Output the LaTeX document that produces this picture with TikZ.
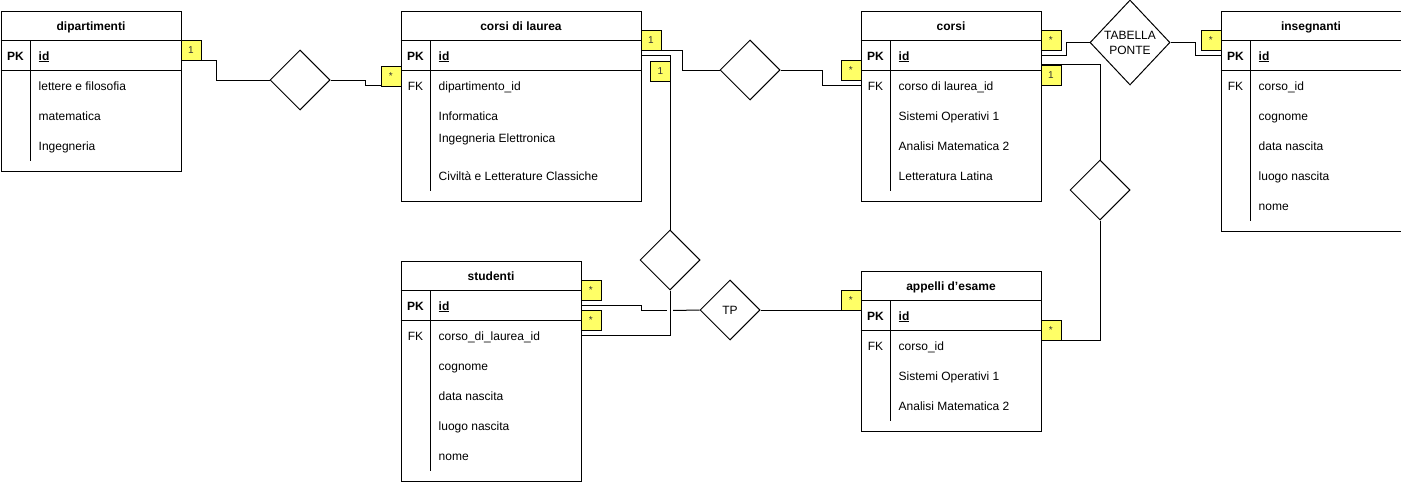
\documentclass[tikz,border=0pt]{standalone}
\usepackage{fontspec}
\setmainfont{Liberation Sans}
\usetikzlibrary{shapes.geometric}
\definecolor{badgeyellow}{HTML}{FFFF66}
\definecolor{badgetext}{HTML}{333333}
\newcommand{\ertab}[7]{%
  \node[tbl, minimum width=#4pt, minimum height=#5pt] (#1) at (#2,#3) {};
  \draw[tblline] ([yshift=-30pt]#1.north west) -- ([yshift=-30pt]#1.north east);
  \draw[tblline] ([yshift=-60pt]#1.north west) -- ([yshift=-60pt]#1.north east);
  \draw[tblline] ([xshift=30pt,yshift=-30pt]#1.north west) -- ++(0,#7);
  \node[titletxt] (#1-t) at ([yshift=-15pt]#1.north) {\textbf{#6}};
  \node[keytxt] (#1-pk) at ([xshift=15pt,yshift=-45pt]#1.north west) {\textbf{PK}};
  \node[rowtxt] (#1-id) at ([xshift=38pt,yshift=-45pt]#1.north west) {\textbf{\underline{id}}};
}
\newcommand{\errow}[4]{\node[rowtxt] (#1) at ([xshift=38pt,yshift=-#3pt]#2.north west) {#4};}
\newcommand{\erfk}[2]{\node[keytxt] (#1) at ([xshift=15pt,yshift=-75pt]#2.north west) {FK};}
\begin{document}
\begin{tikzpicture}[x=1pt,y=-1pt,
  font=\fontsize{12pt}{14pt}\selectfont,
  tbl/.style={draw, line width=1pt, inner sep=0pt, anchor=north west, fill=white},
  tblline/.style={line width=1pt},
  titletxt/.style={inner sep=0pt, text height=9pt, text depth=0pt},
  keytxt/.style={inner sep=0pt, text height=9pt, text depth=0pt},
  rowtxt/.style={inner sep=0pt, anchor=west, text height=9pt, text depth=0pt},
  rel/.style={draw, diamond, inner sep=0pt, minimum width=60pt, minimum height=60pt, line width=1pt},
  conn/.style={line width=1pt},
  badge/.style={draw, line width=0.7pt, fill=badgeyellow, anchor=north west, minimum width=20pt, minimum height=20pt, inner sep=0pt, text=badgetext, font=\fontsize{10pt}{12pt}\selectfont, text height=7pt, text depth=0pt}
]
\useasboundingbox (0,0) rectangle (1401,482);

% tables
\ertab{dip}{0.5}{10.5}{180}{160}{dipartimenti}{120}
\errow{dip-r1}{dip}{75}{lettere e filosofia}
\errow{dip-r2}{dip}{105}{matematica}
\errow{dip-r3}{dip}{135}{Ingegneria}

\ertab{cdl}{400.5}{10.5}{240}{190}{corsi di laurea}{150}
\erfk{cdl-fk}{cdl}
\errow{cdl-r1}{cdl}{75}{dipartimento\_id}
\errow{cdl-r2}{cdl}{105.5}{Informatica}
\errow{cdl-r3}{cdl}{127}{Ingegneria Elettronica}
\errow{cdl-r4}{cdl}{165}{Civiltà e Letterature Classiche}

\ertab{corsi}{860.5}{10.5}{180}{190}{corsi}{150}
\erfk{corsi-fk}{corsi}
\errow{corsi-r1}{corsi}{75}{corso di laurea\_id}
\errow{corsi-r2}{corsi}{105}{Sistemi Operativi 1}
\errow{corsi-r3}{corsi}{135}{Analisi Matematica 2}
\errow{corsi-r4}{corsi}{165}{Letteratura Latina}

\ertab{ins}{1220.5}{10.5}{180}{220}{insegnanti}{180}
\erfk{ins-fk}{ins}
\errow{ins-r1}{ins}{75}{corso\_id}
\errow{ins-r2}{ins}{105}{cognome}
\errow{ins-r3}{ins}{135}{data nascita}
\errow{ins-r4}{ins}{165}{luogo nascita}
\errow{ins-r5}{ins}{195}{nome}

\ertab{stu}{400.5}{260.5}{180}{220}{studenti}{180}
\erfk{stu-fk}{stu}
\errow{stu-r1}{stu}{75}{corso\_di\_laurea\_id}
\errow{stu-r2}{stu}{105}{cognome}
\errow{stu-r3}{stu}{135}{data nascita}
\errow{stu-r4}{stu}{165}{luogo nascita}
\errow{stu-r5}{stu}{195}{nome}

\ertab{app}{860.5}{270.5}{180}{160}{appelli d'esame}{120}
\erfk{app-fk}{app}
\errow{app-r1}{app}{75}{corso\_id}
\errow{app-r2}{app}{105}{Sistemi Operativi 1}
\errow{app-r3}{app}{135}{Analisi Matematica 2}

% relationships
\node[rel] (d1) at (300,80) {};
\node[rel] (d2) at (750,70) {};
\node[rel] (d3) at (670,260) {};
\node[rel, minimum width=80pt, minimum height=85pt] (d4) at (1130,42.5) {};
\node[align=center, inner sep=0pt, font=\fontsize{12pt}{15pt}\selectfont] (d4-t) at (1130,43) {TABELLA\\PONTE};
\node[rel] (d5) at (1100,190) {};
\node[rel] (tp) at (730,310) {};
\node[inner sep=0pt, text height=9pt, text depth=0pt] (tp-t) at (730,310) {TP};

% crossing gap points
\coordinate (gapL) at (667,310.5);
\coordinate (gapR) at (673,310.5);

% connectors
\draw[conn] ([yshift=-50pt]dip.north east) -- ++(34.5,0) |- (d1.west);
\draw[conn] (d1.east) -- ++(35,0) |- ([yshift=-75pt]cdl.north west);
\draw[conn] ([yshift=-40pt]cdl.north east) -- ++(41,0) |- (d2.west);
\draw[conn] (d2.east) -- ++(42,0) |- ([yshift=-75pt]corsi.north west);
\draw[conn] ([yshift=-45pt]cdl.north east) -| (d3.north);
\draw[conn] ([yshift=-75pt]stu.north east) -| (d3.south);
\draw[conn] ([yshift=-45pt]stu.north east) -- ++(59.5,0) |- (gapL);
\draw[conn] (gapR) -- (tp.west);
\draw[conn] (tp.east) -- (app.west |- tp.east);
\draw[conn] ([yshift=-45pt]corsi.north east) -- ++(24.5,0) |- (d4.west);
\draw[conn] (d4.east) -- ++(25,0) |- ([yshift=-45pt]ins.north west);
\draw[conn] ([yshift=-54pt]corsi.north east) -| (d5.north);
\draw[conn] ([yshift=-70pt]app.north east) -| (d5.south);

% badges
\node[badge] (bA) at (180.5,40) {1};
\node[badge] (bB) at (380.5,65.5) {*};
\node[badge] (bC) at (640.5,30) {1};
\node[badge] (bD) at (650,60.5) {1};
\node[badge] (bE) at (840.5,60) {*};
\node[badge] (bF) at (1040.5,30) {*};
\node[badge] (bG) at (1040.5,65) {1};
\node[badge] (bH) at (1200.5,30) {*};
\node[badge] (bI) at (580.5,280) {*};
\node[badge] (bJ) at (580.5,310) {*};
\node[badge] (bK) at (840.5,290) {*};
\node[badge] (bL) at (1040.5,320) {*};
\end{tikzpicture}
\end{document}
